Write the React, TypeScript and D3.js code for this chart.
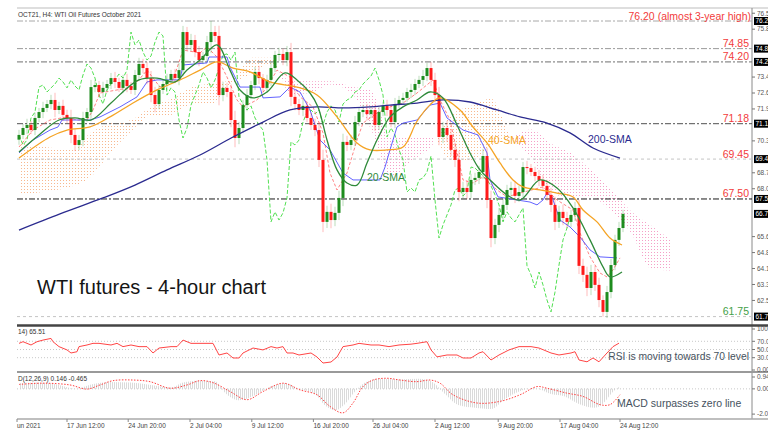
import React from "react";
import * as d3 from "d3";

// ---------------- data ----------------
const firstOpen = 70.4;
const closes = [
  70.63, 70.97, 71.12, 70.87, 71.46, 71.75, 71.95, 72.14, 72.34, 71.85,
  72.05, 71.61, 71.46, 70.63, 70.14, 70.38, 71.46, 71.75, 72.97, 73.07,
  72.73, 72.93, 73.12, 73.41, 73.22, 72.93, 73.32, 73.02, 72.83, 73.56,
  74.10, 73.90, 73.41, 72.58, 72.14, 72.83, 73.12, 73.32, 73.61, 73.41,
  73.80, 75.66, 75.03, 75.27, 74.68, 74.29, 74.49, 75.17, 75.66, 75.47,
  72.58, 72.93, 72.73, 71.36, 70.48, 70.97, 72.09, 72.58, 73.07, 73.71,
  73.41, 72.93, 73.32, 73.90, 74.54, 74.59, 74.29, 74.68, 72.49, 72.14,
  71.85, 72.05, 71.46, 71.12, 70.87, 69.41, 66.38, 66.87, 66.47, 66.82,
  67.55, 70.29, 70.14, 70.38, 71.26, 71.75, 71.85, 71.65, 71.85, 71.12,
  71.75, 72.05, 71.85, 71.26, 72.14, 72.34, 72.44, 72.73, 72.83, 73.12,
  73.32, 73.51, 73.90, 73.32, 72.58, 70.53, 70.97, 70.63, 69.90, 69.41,
  67.84, 68.04, 67.84, 68.43, 68.53, 68.82, 69.60, 67.45, 65.59, 66.23,
  66.72, 67.21, 67.94, 68.04, 67.65, 67.84, 69.06, 69.01, 68.82, 68.62,
  68.43, 68.14, 67.70, 67.21, 66.38, 66.87, 66.57, 66.38, 66.72, 67.06,
  64.23, 63.79, 63.15, 63.93, 63.30, 62.56, 61.98, 62.95, 64.27, 65.50,
  66.08, 66.77,
];
const wicks = [
  0.25, 0.2, 0.3, 0.2, 0.25, 0.2, 0.3, 0.2, 0.25, 0.35, 0.2, 0.3, 0.25, 0.4, 0.3, 0.25, 0.3, 0.2, 0.35, 0.25,
  0.2, 0.3, 0.2, 0.25, 0.3, 0.2, 0.25, 0.3, 0.2, 0.25, 0.3, 0.25, 0.3, 0.35, 0.4, 0.25, 0.2, 0.3, 0.2, 0.25,
  0.35, 0.3, 0.25, 0.3, 0.25, 0.3, 0.2, 0.3, 0.54, 0.3, 0.5, 0.3, 0.25, 0.35, 0.45, 0.3, 0.25, 0.3, 0.2, 0.25,
  0.3, 0.2, 0.25, 0.3, 0.2, 0.3, 0.25, 0.3, 0.45, 0.3, 0.25, 0.3, 0.2, 0.25, 0.3, 0.35, 0.5, 0.3, 0.4, 0.3,
  0.35, 0.4, 0.3, 0.25, 0.3, 0.2, 0.25, 0.3, 0.2, 0.3, 0.25, 0.2, 0.3, 0.25, 0.3, 0.2, 0.25, 0.2, 0.3, 0.25,
  0.2, 0.3, 0.25, 0.3, 0.35, 0.4, 0.3, 0.35, 0.3, 0.35, 0.45, 0.3, 0.35, 0.3, 0.25, 0.3, 0.35, 0.4, 0.45, 0.3,
  0.35, 0.3, 0.25, 0.3, 0.35, 0.3, 0.25, 0.3, 0.2, 0.25, 0.3, 0.25, 0.3, 0.35, 0.4, 0.3, 0.35, 0.3, 0.25, 0.3,
  0.4, 0.35, 0.4, 0.35, 0.3, 0.35, 0.23, 0.3, 0.3, 0.25, 0.3, 0.2,
];

// [bar index, price]
const sma20 = [
  [0, 69.8], [5, 70.63], [10, 71.36], [14, 71.46], [18, 71.36], [23, 72.19], [26.5, 72.83], [30, 73.32],
  [34.5, 73.41], [39, 73.22], [42, 73.8], [45.25, 74.29], [49.5, 75.03], [52.75, 73.8], [55.25, 72.83],
  [58.5, 72.44], [62, 72.73], [66.5, 73.66], [69.5, 73.32], [72.75, 72.68], [74.75, 72.0], [77, 70.38],
  [79.5, 68.92], [82, 68.28], [84.5, 68.18], [87, 69.26], [89.5, 70.38], [92.75, 71.51], [96, 72.0],
  [99.5, 72.34], [102.75, 72.73], [106, 72.44], [109.5, 71.12], [112.75, 69.75], [115.25, 68.92],
  [117.75, 68.43], [122, 67.7], [125.25, 67.45], [130.25, 68.43], [134.5, 68.04], [138.5, 67.06],
  [142.75, 65.5], [146, 64.18], [147.75, 63.69], [150.75, 63.93],
];
const sma40 = [
  [0, 69.5], [7.75, 70.53], [12, 70.87], [17.75, 71.02], [22.75, 71.51], [28.5, 72.19], [34.5, 72.83],
  [40.25, 73.32], [45.25, 73.8], [49.5, 74.2], [53.5, 73.9], [57.75, 73.71], [62.75, 73.22], [69.5, 72.97],
  [74.5, 72.58], [79.5, 71.51], [84.5, 70.24], [87.75, 69.9], [92, 69.9], [96, 70.04], [99.5, 71.3],
  [102.75, 72.1], [105.25, 72.44], [110.25, 71.85], [113.5, 71.02], [117, 70.24], [120.25, 69.26],
  [123.5, 68.43], [126, 68.09], [130.25, 67.94], [134.5, 67.79], [138.5, 67.6], [141, 66.96],
  [144.5, 66.38], [147.75, 65.59], [150.75, 65.25],
];
const sma200 = [
  [0, 65.98], [10.25, 66.77], [21, 67.55], [29, 68.18], [37, 68.92], [45.25, 69.65], [53.5, 70.53],
  [61, 71.26], [67.75, 71.85], [74.5, 72.0], [81, 71.95], [87.75, 72.0], [92.75, 72.09], [99.5, 72.19],
  [106, 72.34], [112.75, 72.24], [119.5, 71.85], [125.25, 71.51], [132, 71.21], [137.75, 70.73],
  [143.5, 69.99], [150.25, 69.5],
];
const tenkan = [
  [0, 70.04], [3.5, 70.87], [7.75, 71.36], [12, 71.51], [14.5, 71.36], [17, 71.36], [18.5, 71.85],
  [20.25, 72.68], [28.5, 72.97], [32, 73.8], [35.25, 72.97], [38.5, 73.32], [41, 74.78], [45.25, 74.64],
  [47, 74.93], [49.5, 74.44], [52, 73.46], [54.5, 72.34], [56, 72.0], [59.5, 72.34], [62, 72.97],
  [64.5, 73.8], [67.75, 73.46], [70.25, 72.49], [73.5, 72.0], [76, 70.73], [77.75, 68.77], [79.5, 67.94],
  [82, 68.77], [84.5, 70.38], [86, 71.21], [89.5, 71.7], [92.75, 72.0], [96, 72.19], [99.5, 72.68],
  [103.5, 73.32], [105.25, 72.34], [107.75, 71.36], [111, 68.43], [113.5, 68.28], [116, 68.58],
  [119.5, 67.94], [122, 67.6], [125.25, 67.79], [131, 68.09], [134.5, 67.45], [138.5, 66.96],
  [140.25, 65.84], [142.75, 64.67], [145.25, 63.88], [147, 63.69], [148.5, 64.03], [150.25, 64.62],
];
const kijun = [
  [0, 69.75], [3.5, 70.38], [7.75, 70.87], [9.75, 71.02], [10.75, 71.36], [17.75, 71.36], [20.25, 71.51],
  [25.25, 72.0], [29.5, 72.49], [32, 73.22], [34.5, 73.32], [40.25, 73.32], [41, 74.05], [47, 74.15],
  [47.5, 74.44], [52, 74.44], [52.75, 73.95], [55.25, 72.97], [60.25, 72.97], [61, 72.44], [65.25, 72.49],
  [67.75, 72.97], [70.25, 72.73], [72.75, 71.85], [75.25, 70.38], [77.75, 69.9], [81, 68.77], [83.5, 68.43],
  [90.25, 68.43], [91.5, 69.06], [92.75, 69.9], [94.5, 71.02], [96, 71.21], [99.5, 71.36], [102.75, 72.09],
  [105.25, 72.19], [107, 71.46], [111, 70.87], [114.75, 70.63], [117, 69.75], [117.75, 68.43],
  [119.75, 67.6], [127.75, 67.35], [129.5, 67.21], [131, 67.45], [132, 67.79], [133.25, 67.6],
  [135.25, 66.47], [137.75, 66.13], [140.25, 65.64], [142.75, 65.01], [145.25, 64.67], [149.5, 64.62],
];
const senkouIdx = [0, 8, 13, 18, 23, 28, 33, 38, 43, 48, 53, 58, 63, 68, 73, 78, 83, 88, 93, 98, 103, 108, 113, 118, 123, 128, 133, 138, 143, 148, 153, 158, 163];
const senkouA = [70.24, 70.0, 69.9, 70.75, 71.2, 71.36, 72.0, 72.4, 72.95, 73.15, 73.3, 74.4, 74.4, 72.6, 72.7, 73.1, 72.7, 70.9, 68.6, 69.35, 70.05, 71.6, 72.05, 72.4, 70.5, 69.5, 67.75, 67.6, 67.6, 66.9, 65.85, 64.1, 64.0];
const senkouB = [67.7, 67.9, 68.1, 68.6, 69.8, 70.8, 71.55, 71.6, 72.1, 72.1, 73.1, 73.6, 74.1, 73.25, 73.25, 73.25, 73.0, 72.8, 70.55, 70.55, 70.55, 69.4, 69.4, 70.1, 70.5, 70.9, 70.2, 69.75, 68.9, 68.0, 66.9, 66.2, 65.5];
const chikouShift = 13;

const rsi = [
  [0, 65], [1, 69], [3, 61], [4.5, 69], [6, 73], [8, 77], [8.5, 69], [10, 57], [12, 49], [13, 41.5],
  [14.5, 44.6], [15, 57], [17, 61], [18.5, 65], [20, 65], [23, 61], [24.5, 65], [26, 57], [28, 61],
  [30, 57], [32, 57], [33.5, 41.5], [35, 53.6], [38, 57], [39.5, 57], [41, 73], [43, 65], [45, 65],
  [48.5, 65], [50, 36.6], [52, 41.5], [53.5, 29.3], [55, 29.3], [56, 41.5], [58.5, 53.6], [61, 49],
  [63, 57], [64.5, 53.6], [66, 57], [67, 41.5], [68.5, 41.5], [70, 36.6], [73, 41.5], [74.5, 31.7],
  [76, 17], [78, 19.5], [79.5, 31.7], [81, 57], [83.5, 61], [85, 65], [88, 61], [90, 61], [92.5, 57],
  [95, 61], [98, 63], [99.5, 65], [102, 69], [103, 49], [104.5, 32], [107, 36.6], [109.5, 36.6],
  [111, 29.3], [113, 29.3], [115, 41.5], [116, 44.6], [118, 24.4], [120, 36.6], [122.5, 49], [125, 57],
  [128, 57], [130, 53.6], [133, 41.5], [135, 36.6], [138, 41.5], [139, 44.6], [140, 24.4], [142, 20],
  [143.5, 29.3], [145, 20], [147, 41.5], [148.5, 57], [150, 65.51],
];
const macdHist = [
  [0, 0.45], [5, 0.5], [10, 0.3], [14, 0.0], [18, 0.35], [23, 0.55], [28, 0.5], [33, 0.3], [38, 0.1],
  [41, 0.5], [45, 0.65], [49, 0.6], [51.5, -0.3], [55, -0.9], [59, -0.5], [63, 0.2], [66.5, 0.45],
  [70, 0.0], [74, -0.4], [76.5, -1.3], [79, -1.7], [81.5, -1.2], [84, -0.2], [86.5, 0.5], [90, 0.8],
  [95, 0.75], [100, 0.8], [103, 0.6], [106.5, -0.4], [110, -1.3], [114, -1.5], [118, -1.6],
  [121.5, -0.8], [125, -0.2], [129, 0.05], [133, -0.4], [136.5, -0.6], [140, -1.2], [144, -1.5],
  [146.5, -1.0], [148, -0.4], [150, 0.146],
];
const macdSignal = [
  [0, 0.35], [6, 0.45], [12.75, 0.31], [17, -0.02], [20.25, 0.31], [23.5, 0.65], [28.5, 0.7],
  [32.75, 0.57], [37.75, 0.05], [42, 0.31], [45.25, 0.65], [48.5, 0.49], [52.75, -0.21], [57, -0.86],
  [61, -0.21], [66, 0.45], [70.25, -0.08], [74.5, -0.47], [77.75, -1.39], [81, -1.9], [83.5, -1.12],
  [86, 0.18], [88.5, 0.7], [92, 0.84], [95.25, 0.7], [99.5, 0.57], [102.75, 0.7], [105.25, 0.45],
  [108.5, -0.47], [114.5, -1.12], [120.25, -0.99], [125.25, -0.47], [129.5, 0.18], [132, 0.05],
  [137, -0.34], [141, -0.6], [145.25, -1.25], [147.75, -1.25], [150.25, -0.465],
];

const priceTicks = [76.58, 75.8, 75.02, 74.24, 73.46, 72.68, 71.9, 71.12, 70.34, 69.56, 68.78, 68.0, 67.22, 66.44, 65.66, 64.88, 64.1, 63.32, 62.54, 61.76];
const levels = [76.2, 74.85, 74.2, 71.18, 69.45, 67.5, 61.75];
const levelLabels = ["76.20 (almost 3-year high)", "74.85", "74.20", "71.18", "69.45", "67.50", "61.75"];
const dateIdx = [-0.5, 12, 27.3, 42.75, 58.2, 73.6, 88.5, 104, 119.8, 135.25, 150.25];
const dateLabels = ["un 2021", "17 Jun 12:00", "24 Jun 20:00", "2 Jul 04:00", "9 Jul 12:00", "16 Jul 20:00", "26 Jul 04:00", "2 Aug 12:00", "9 Aug 20:00", "17 Aug 04:00", "24 Aug 12:00"];
const rsiTicks = [100, 70, 50, 30, 0];
const rsiTickLabels = ["100", "70.0", "50.0", "30.0", "0.00"];
const rsiLevels = [70, 50, 30];
const macdTicks = [0.94, 0, -2.0];
const macdTickLabels = ["0.94", "0.00", "-2.0"];

// ---------------- layout ----------------
const W = 776;
const H = 441;
const LEFT = 17;
const AXIS_X = 752;
const CLIP_R = 768;
const MAIN_TOP = 8;
const MAIN_BOT = 325;
const FONT = "'Liberation Sans', Arial, sans-serif";

type P = number[];

export default function App() {
  const x = d3.scaleLinear().domain([0, 151]).range([19, 623]);
  const y = d3.scaleLinear().domain([61.75, 76.2]).range([316.6, 21]);
  const yR = d3.scaleLinear().domain([0, 100]).range([370, 329]);
  const yM = d3.scaleLinear().domain([-2.15, 0.94]).range([416, 377]);

  const lineP = (pts: P[], ys: any, curve: any) =>
    d3.line<P>().x((d) => x(d[0])).y((d) => ys(d[1])).curve(curve)(pts) || "";

  const candles = closes.map((c, i) => {
    const o = i === 0 ? firstOpen : closes[i - 1];
    const hi = Math.max(o, c) + wicks[i];
    const lo = Math.min(o, c) - wicks[i];
    return { i, o, c, hi, lo, up: c >= o };
  });

  const chikou = closes.slice(chikouShift).map((c, k) => [k, c]);

  const cloud = senkouIdx.map((i, k) => ({ i, a: senkouA[k], b: senkouB[k] }));
  const mono = d3.curveMonotoneX;
  const belowA = d3.area<any>().x((d) => x(d.i)).y0((d) => y(d.a)).y1(MAIN_BOT + 40).curve(mono)(cloud) || "";
  const belowB = d3.area<any>().x((d) => x(d.i)).y0((d) => y(d.b)).y1(MAIN_BOT + 40).curve(mono)(cloud) || "";
  const aboveB = d3.area<any>().x((d) => x(d.i)).y0(-40).y1((d) => y(d.b)).curve(mono)(cloud) || "";
  const aboveA = d3.area<any>().x((d) => x(d.i)).y0(-40).y1((d) => y(d.a)).curve(mono)(cloud) || "";

  const histArea = d3.area<P>().x((d) => x(d[0])).y0(yM(0)).y1((d) => yM(d[1])).curve(mono)(macdHist) || "";

  const levelStyle = [
    { stroke: "#a8a8a8", dash: "6 2 2 2" },
    { stroke: "#9a9a9a", dash: "6 2 2 2" },
    { stroke: "#707070", dash: "6 2 2 2" },
    { stroke: "#505050", dash: "6 2 2 2" },
    { stroke: "#c4c4c4", dash: "3 3" },
    { stroke: "#1a1a1a", dash: "6 2 2 2" },
    { stroke: "#c4c4c4", dash: "3 3" },
  ];
  const lastClose = closes[closes.length - 1];
  const boxes = [...levels, lastClose];
  // hide axis ticks that would sit under a black level box
  const visibleTicks = priceTicks.filter((v) => boxes.every((b) => Math.abs(y(v) - y(b)) >= 7.5));

  const green = "#1e8c1e";
  const red = "#ff1a1a";

  return (
    <svg width={W} height={H} style={{ position: "absolute", left: 0, top: 0, background: "#fff" }} fontFamily={FONT}>
      <defs>
        <clipPath id="page"><rect x={0} y={0} width={CLIP_R} height={H} /></clipPath>
        <clipPath id="main"><rect x={LEFT} y={MAIN_TOP} width={AXIS_X - LEFT} height={MAIN_BOT - MAIN_TOP} /></clipPath>
        <clipPath id="clipBelowA"><path d={belowA} /></clipPath>
        <clipPath id="clipBelowB"><path d={belowB} /></clipPath>
        <pattern id="dotUp" width={3} height={3} patternUnits="userSpaceOnUse">
          <rect width={1} height={1} fill="#f4a06a" />
        </pattern>
        <pattern id="dotDn" width={3} height={3} patternUnits="userSpaceOnUse">
          <rect width={1} height={1} fill="#f27fb4" />
        </pattern>
        <pattern id="stripes" width={2} height={4} patternUnits="userSpaceOnUse">
          <rect width={1} height={4} fill="#dadada" />
        </pattern>
      </defs>
      <rect x={0} y={0} width={W} height={H} fill="#fff" />
      <g clipPath="url(#page)">
        {/* frame lines */}
        <line x1={LEFT} x2={CLIP_R} y1={MAIN_TOP} y2={MAIN_TOP} stroke="#bdbdbd" />
        <line x1={AXIS_X} x2={AXIS_X} y1={MAIN_TOP} y2={419} stroke="#8a8a8a" />

        {/* header */}
        <text x={18} y={17} fontSize={6.5} fill="#333">OCT21, H4:  WTI Oil Futures October 2021</text>

        {/* main panel */}
        <g clipPath="url(#main)">
          <g clipPath="url(#clipBelowA)" opacity={0.75}>
            <path d={aboveB} fill="url(#dotUp)" />
          </g>
          <g clipPath="url(#clipBelowB)" opacity={0.75}>
            <path d={aboveA} fill="url(#dotDn)" />
          </g>

          {levels.map((v, k) => (
            <line key={"lv" + k} x1={LEFT} x2={AXIS_X} y1={y(v)} y2={y(v)}
              stroke={levelStyle[k].stroke} strokeDasharray={levelStyle[k].dash} strokeWidth={1} />
          ))}

          <path d={lineP(chikou, y, d3.curveLinear)} fill="none" stroke="#52e052" strokeWidth={1} strokeDasharray="4 2" />
          <path d={lineP(tenkan, y, d3.curveLinear)} fill="none" stroke="#ff5a5a" strokeWidth={1} strokeDasharray="3 2" strokeOpacity={0.75} />
          <path d={lineP(kijun, y, d3.curveLinear)} fill="none" stroke="#4646ff" strokeWidth={1} strokeOpacity={0.85} />

          {candles.map((d) => {
            const col = d.up ? green : red;
            const cx = x(d.i);
            const top = Math.min(y(d.o), y(d.c));
            const h = Math.max(1, Math.abs(y(d.o) - y(d.c)));
            return (
              <g key={"c" + d.i}>
                <line x1={cx} x2={cx} y1={y(d.hi)} y2={y(d.lo)} stroke={col} strokeOpacity={0.3} />
                <rect x={cx - 1.5} y={top} width={3} height={h} fill={col} />
              </g>
            );
          })}

          <path d={lineP(sma200, y, d3.curveCatmullRom)} fill="none" stroke="#2b2b8f" strokeWidth={1.3} />
          <path d={lineP(sma40, y, d3.curveCatmullRom)} fill="none" stroke="#f5a425" strokeWidth={1.3} />
          <path d={lineP(sma20, y, d3.curveCatmullRom)} fill="none" stroke="#2f8a3a" strokeWidth={1.3} />

          {levels.map((v, k) => (
            <text key={"ll" + k} x={k === 0 ? 751 : 749} y={y(v) - 1.5} textAnchor="end" fontSize={10.5}
              fill={k === levels.length - 1 ? "#43a047" : "#f23b3b"}>{levelLabels[k]}</text>
          ))}

          <text x={367} y={181} fontSize={10.5} fill="#2f8a3a">20-SMA</text>
          <text x={488} y={144} fontSize={10.5} fill="#f5a425">40-SMA</text>
          <text x={588} y={143} fontSize={10.5} fill="#2b2b8f">200-SMA</text>
          <text x={37} y={294} fontSize={20} fill="#151515">WTI futures - 4-hour chart</text>
        </g>

        {/* price axis */}
        {visibleTicks.map((v, k) => (
          <g key={"pt" + k}>
            <line x1={AXIS_X} x2={AXIS_X + 3} y1={y(v)} y2={y(v)} stroke="#777" />
            <text x={757} y={y(v)} dy="0.35em" fontSize={6.5} fill="#555">{v.toFixed(2)}</text>
          </g>
        ))}
        {boxes.map((v, k) => (
          <g key={"bx" + k}>
            <rect x={754} y={y(v) - 4} width={16} height={8} fill="#000" />
            <text x={755.5} y={y(v)} dy="0.35em" fontSize={6.5} fill="#fff">{v.toFixed(2)}</text>
          </g>
        ))}

        {/* separators */}
        <line x1={LEFT} x2={CLIP_R} y1={325.5} y2={325.5} stroke="#444" strokeWidth={2.5} />
        <line x1={LEFT} x2={CLIP_R} y1={372} y2={372} stroke="#9a9a9a" strokeWidth={2} />
        <line x1={LEFT} x2={CLIP_R} y1={419} y2={419} stroke="#aaa" strokeWidth={1.5} />

        {/* RSI panel */}
        <text x={18} y={333.5} fontSize={6.5} fill="#333">14) 65.51</text>
        {rsiLevels.map((v) => (
          <line key={"rl" + v} x1={LEFT} x2={AXIS_X} y1={yR(v)} y2={yR(v)} stroke="#c8c8c8" strokeDasharray="1 2" />
        ))}
        <path d={lineP(rsi, yR, d3.curveLinear)} fill="none" stroke="#ff4545" strokeWidth={1} />
        {rsiTicks.map((v, k) => (
          <g key={"rt" + k}>
            <line x1={AXIS_X} x2={AXIS_X + 3} y1={yR(v)} y2={yR(v)} stroke="#777" />
            <text x={757} y={yR(v)} dy="0.35em" fontSize={6.5} fill="#555">{rsiTickLabels[k]}</text>
          </g>
        ))}
        <text x={749} y={360} textAnchor="end" fontSize={10.3} fill="#46525e">RSI is moving towards 70 level</text>

        {/* MACD panel */}
        <text x={18} y={381} fontSize={6.5} fill="#333">D(12,26,9) 0.146 -0.465</text>
        <path d={histArea} fill="url(#stripes)" />
        <line x1={LEFT} x2={AXIS_X} y1={yM(0)} y2={yM(0)} stroke="#c8c8c8" strokeDasharray="1 2" />
        <path d={lineP(macdSignal, yM, d3.curveCatmullRom)} fill="none" stroke="#ff4040" strokeWidth={1} strokeDasharray="1.5 1.5" />
        {macdTicks.map((v, k) => (
          <g key={"mt" + k}>
            <line x1={AXIS_X} x2={AXIS_X + 3} y1={yM(v)} y2={yM(v)} stroke="#777" />
            <text x={757} y={yM(v)} dy="0.35em" fontSize={6.5} fill="#555">{macdTickLabels[k]}</text>
          </g>
        ))}
        <text x={617} y={407} fontSize={10.5} fill="#46525e">MACD surpasses zero line</text>

        {/* time axis */}
        {dateIdx.map((i, k) => (
          <g key={"dt" + k}>
            <line x1={Math.max(LEFT, x(i))} x2={Math.max(LEFT, x(i))} y1={419} y2={422} stroke="#888" />
            <text x={Math.max(LEFT, x(i))} y={427.5} fontSize={6.5} fill="#444">{dateLabels[k]}</text>
          </g>
        ))}
      </g>
    </svg>
  );
}
